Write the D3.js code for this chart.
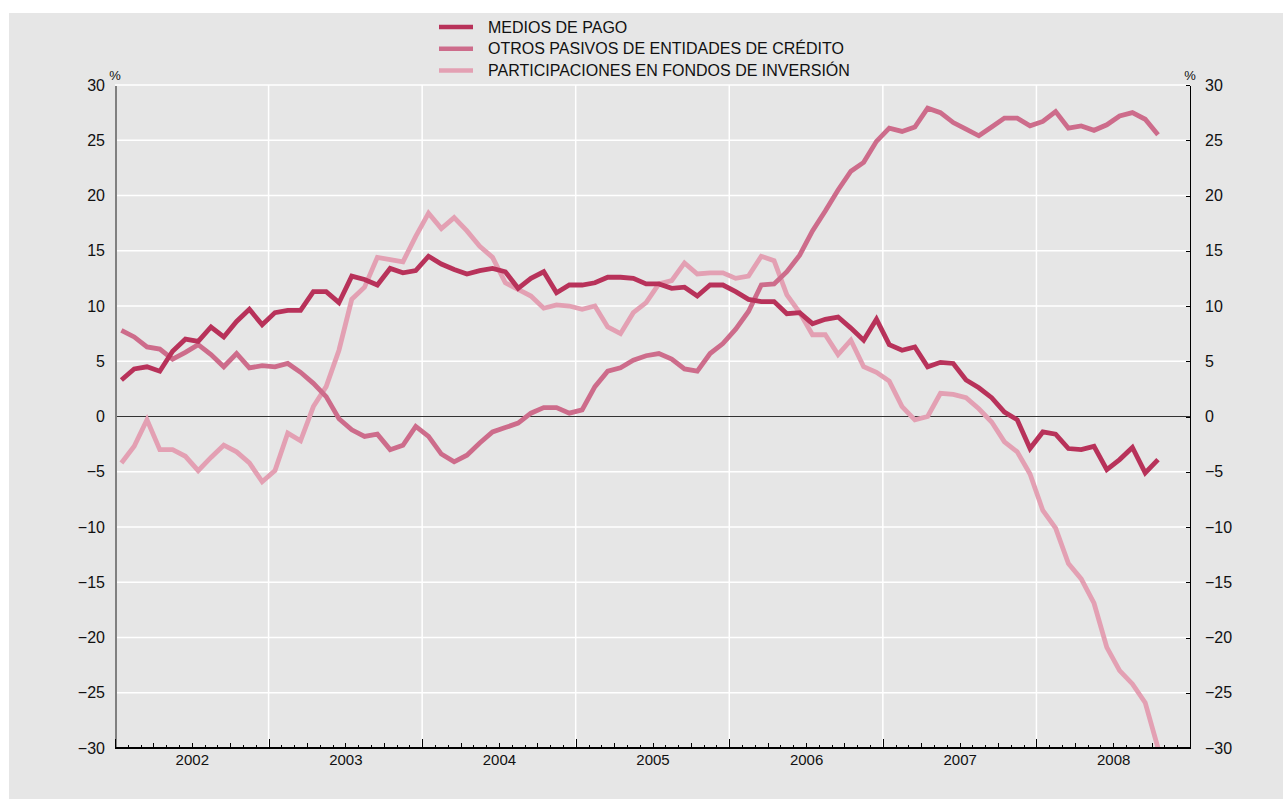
<!DOCTYPE html>
<html>
<head>
<meta charset="utf-8">
<script src="https://cdn.jsdelivr.net/npm/d3@7"></script>
<style>
  body { margin: 0; background: #fff; }
  svg { display: block; font-family: "Liberation Sans", Arial, sans-serif; }
  .axis path, .axis line { shape-rendering: crispEdges; }
</style>
</head>
<body>
<svg id="chart" width="1283" height="799"></svg>
<script>
// monthly series, Jan 2002 - Oct 2008 (% tasa interanual)
var years = ["2002", "2003", "2004", "2005", "2006", "2007", "2008"];
var yTicks = [-30, -25, -20, -15, -10, -5, 0, 5, 10, 15, 20, 25, 30];

var mediosDePago = [
  3.3, 4.3, 4.5, 4.1, 5.9, 7.0, 6.8, 8.1, 7.2, 8.6, 9.7, 8.3,
  9.4, 9.6, 9.6, 11.3, 11.3, 10.3, 12.7, 12.4, 11.9, 13.4, 13.0, 13.2,
  14.5, 13.8, 13.3, 12.9, 13.2, 13.4, 13.1, 11.6, 12.5, 13.1, 11.2, 11.9,
  11.9, 12.1, 12.6, 12.6, 12.5, 12.0, 12.0, 11.6, 11.7, 10.9, 11.9, 11.9,
  11.3, 10.6, 10.4, 10.4, 9.3, 9.4, 8.4, 8.8, 9.0, 8.0, 6.9, 8.8,
  6.5, 6.0, 6.3, 4.5, 4.9, 4.8, 3.3, 2.6, 1.7, 0.4, -0.3, -2.9,
  -1.4, -1.6, -2.9, -3.0, -2.7, -4.8, -3.9, -2.8, -5.1, -3.9
];

var otrosPasivos = [
  7.8, 7.2, 6.3, 6.1, 5.2, 5.8, 6.5, 5.6, 4.5, 5.7, 4.4, 4.6,
  4.5, 4.8, 4.0, 3.0, 1.8, -0.2, -1.2, -1.8, -1.6, -3.0, -2.6, -0.9,
  -1.8, -3.4, -4.1, -3.5, -2.4, -1.4, -1.0, -0.6, 0.3, 0.8, 0.8, 0.3,
  0.6, 2.7, 4.1, 4.4, 5.1, 5.5, 5.7, 5.2, 4.3, 4.1, 5.7, 6.6,
  7.9, 9.5, 11.9, 12.0, 13.1, 14.6, 16.8, 18.6, 20.5, 22.2, 23.0, 24.9,
  26.1, 25.8, 26.2, 27.9, 27.5, 26.6, 26.0, 25.4, 26.2, 27.0, 27.0, 26.3,
  26.7, 27.6, 26.1, 26.3, 25.9, 26.4, 27.2, 27.5, 26.9, 25.5
];

var participaciones = [
  -4.2, -2.7, -0.3, -3.0, -3.0, -3.6, -4.9, -3.7, -2.6, -3.2, -4.2, -5.9,
  -4.9, -1.5, -2.2, 0.9, 2.7, 6.0, 10.6, 11.7, 14.4, 14.2, 14.0, 16.3,
  18.4, 17.0, 18.0, 16.8, 15.4, 14.4, 12.1, 11.5, 10.9, 9.8, 10.1, 10.0,
  9.7, 10.0, 8.1, 7.5, 9.4, 10.3, 12.0, 12.3, 13.9, 12.9, 13.0, 13.0,
  12.5, 12.7, 14.5, 14.1, 11.0, 9.4, 7.4, 7.4, 5.6, 6.9, 4.5, 4.0,
  3.2, 0.9, -0.3, 0.0, 2.1, 2.0, 1.7, 0.7, -0.5, -2.3, -3.2, -5.2,
  -8.5, -10.1, -13.3, -14.7, -16.9, -20.9, -23.0, -24.2, -25.9, -30.0
];

var seriesNames = [
  "MEDIOS DE PAGO",
  "OTROS PASIVOS DE ENTIDADES DE CRÉDITO",
  "PARTICIPACIONES EN FONDOS DE INVERSIÓN"
];
var seriesColors = ["#b8325a", "#cd6c8b", "#e3a0b3"];

var series = [mediosDePago, otrosPasivos, participaciones];

var svg = d3.select("#chart");
var plot = {left: 115, right: 1190, top: 85, bottom: 748};

// background panel
svg.append("rect").attr("x", 9).attr("y", 13)
  .attr("width", 1283 - 9).attr("height", 799 - 13)
  .attr("fill", "#e6e6e6");

var nMonths = years.length * 12;
var x = d3.scaleLinear().domain([0, nMonths]).range([plot.left, plot.right]);
var y = d3.scaleLinear().domain([-30, 30]).range([plot.bottom, plot.top]);

// horizontal grid
svg.append("g").selectAll("line")
  .data(yTicks.filter(function(d) { return d !== 0; }))
  .enter().append("line")
  .attr("x1", plot.left).attr("x2", plot.right)
  .attr("y1", function(d) { return y(d); })
  .attr("y2", function(d) { return y(d); })
  .attr("stroke", "#fff").attr("stroke-width", 1.5);

// vertical grid at year boundaries
svg.append("g").selectAll("line")
  .data(d3.range(12, nMonths, 12))
  .enter().append("line")
  .attr("x1", function(d) { return x(d); })
  .attr("x2", function(d) { return x(d); })
  .attr("y1", plot.top).attr("y2", plot.bottom)
  .attr("stroke", "#fff").attr("stroke-width", 1.5);

// zero line
svg.append("line")
  .attr("x1", plot.left).attr("x2", plot.right)
  .attr("y1", y(0)).attr("y2", y(0))
  .attr("stroke", "#333").attr("stroke-width", 1);

// lines
var line = d3.line()
  .x(function(d, i) { return x(i + 0.5); })
  .y(function(d) { return y(d); });

svg.append("clipPath").attr("id", "clip")
  .append("rect").attr("x", plot.left).attr("y", plot.top)
  .attr("width", plot.right - plot.left).attr("height", plot.bottom - plot.top);

var lines = svg.append("g").attr("clip-path", "url(#clip)");
[2, 1, 0].forEach(function(k) {
  lines.append("path")
    .datum(series[k])
    .attr("d", line)
    .attr("fill", "none")
    .attr("stroke", seriesColors[k])
    .attr("stroke-width", 4.8)
    .attr("stroke-linejoin", "miter");
});

// left axis
var yLeft = svg.append("g").attr("class", "axis")
  .attr("transform", "translate(" + plot.left + ",0)")
  .call(d3.axisLeft(y).tickValues(yTicks).tickSize(0).tickPadding(10));
yLeft.select(".domain").attr("stroke", "#808080").attr("stroke-width", 2);
yLeft.selectAll("text").style("font-size", "16px").attr("fill", "#111");

// right axis
var yRight = svg.append("g").attr("class", "axis")
  .attr("transform", "translate(" + plot.right + ",0)")
  .call(d3.axisRight(y).tickValues(yTicks).tickSizeInner(-4).tickSizeOuter(0).tickPadding(15));
yRight.select(".domain").attr("stroke", "#000").attr("stroke-width", 1.5);
yRight.selectAll("line").attr("stroke", "#000");
yRight.selectAll("text").style("font-size", "16px").attr("fill", "#111");

// bottom axis: month, quarter and year ticks pointing up
function bottomTicks(step, size) {
  var g = svg.append("g").attr("class", "axis")
    .attr("transform", "translate(0," + plot.bottom + ")")
    .call(d3.axisBottom(x).tickValues(d3.range(0, nMonths + 1, step))
      .tickSizeInner(-size).tickSizeOuter(0).tickFormat(""));
  g.select(".domain").remove();
  g.selectAll("line").attr("stroke", "#000").attr("stroke-width", 1);
}
bottomTicks(1, 3);
bottomTicks(3, 5);
bottomTicks(12, 9);

svg.append("line")
  .attr("x1", plot.left).attr("x2", plot.right)
  .attr("y1", plot.bottom).attr("y2", plot.bottom)
  .attr("stroke", "#000").attr("stroke-width", 2);

// year labels centred in each year
var xLabels = svg.append("g").attr("class", "axis")
  .attr("transform", "translate(0," + plot.bottom + ")")
  .call(d3.axisBottom(x).tickValues(d3.range(6, nMonths, 12))
    .tickSize(0).tickPadding(6)
    .tickFormat(function(d, i) { return years[i]; }));
xLabels.select(".domain").remove();
xLabels.selectAll("text").style("font-size", "15px").attr("fill", "#111");

// % units
svg.append("text").attr("x", plot.left).attr("y", 80)
  .attr("text-anchor", "middle").style("font-size", "13px").attr("fill", "#111").text("%");
svg.append("text").attr("x", plot.right).attr("y", 80)
  .attr("text-anchor", "middle").style("font-size", "13px").attr("fill", "#111").text("%");

// legend
var legend = svg.append("g").attr("transform", "translate(439,27)");
seriesNames.forEach(function(name, k) {
  var g = legend.append("g").attr("transform", "translate(0," + (k * 21.7) + ")");
  g.append("line").attr("x1", 0).attr("x2", 34).attr("y1", 0).attr("y2", 0)
    .attr("stroke", seriesColors[k]).attr("stroke-width", 4.5);
  g.append("text").attr("x", 49).attr("y", 5.5)
    .style("font-size", "16px").attr("fill", "#111").text(name);
});
</script>
</body>
</html>
